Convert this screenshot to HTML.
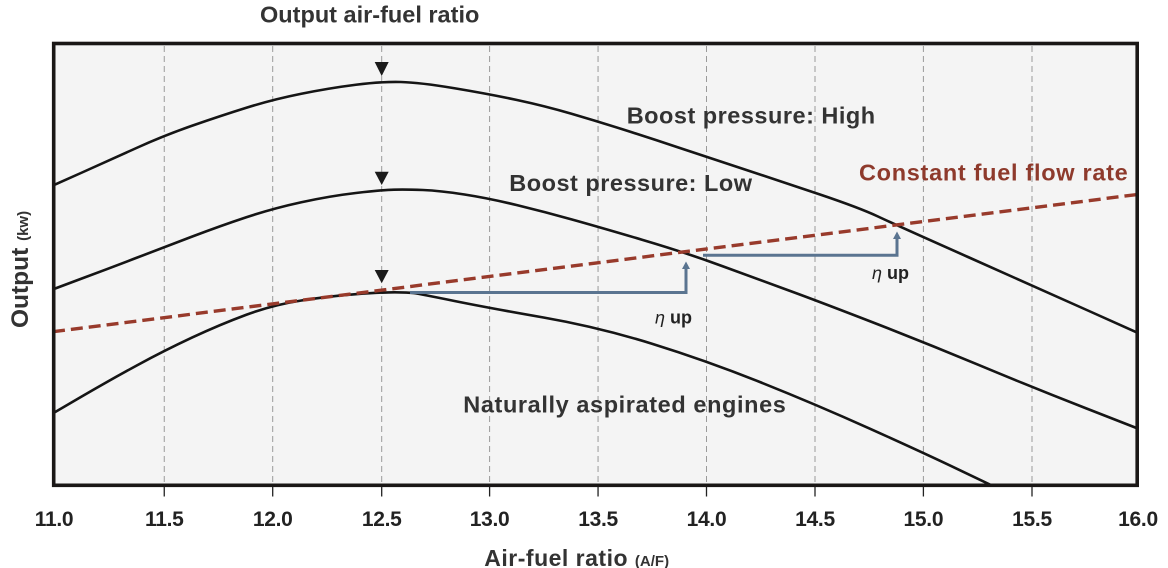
<!DOCTYPE html>
<html><head><meta charset="utf-8"><style>
html,body{margin:0;padding:0;background:#fff;}
svg{display:block;}
text{font-family:"Liberation Sans",Arial,sans-serif;font-weight:bold;}
</style></head><body>
<svg width="1168" height="568" viewBox="0 0 1168 568" xmlns="http://www.w3.org/2000/svg">
<defs><clipPath id="pa"><rect x="55" y="45" width="1081" height="439"/></clipPath></defs>
<rect x="53.7" y="43.5" width="1083.5" height="441.8" fill="#f4f4f4"/>
<g stroke="#9a9a9a" stroke-width="1" stroke-dasharray="6,4">
<line x1="164.25" y1="46" x2="164.25" y2="483"/>
<line x1="272.7" y1="46" x2="272.7" y2="483"/>
<line x1="381.7" y1="46" x2="381.7" y2="483"/>
<line x1="489.6" y1="46" x2="489.6" y2="483"/>
<line x1="598.05" y1="46" x2="598.05" y2="483"/>
<line x1="706.5" y1="46" x2="706.5" y2="483"/>
<line x1="815" y1="46" x2="815" y2="483"/>
<line x1="923.4" y1="46" x2="923.4" y2="483"/>
<line x1="1032" y1="46" x2="1032" y2="483"/>
</g>
<g clip-path="url(#pa)" fill="none" stroke-linejoin="round" stroke-linecap="round">
<path stroke="#151515" stroke-width="2.6" d="M53,185.5 L81.5,172.75 Q110,160 137,147.75 Q164,135.5 192,125.75 Q220,116 246.35,107.75 Q272.7,99.5 301.35,93.75 Q330,88 355.85,84.75 Q381.7,81.5 400.85,82 Q420,82.5 454.5,88.25 Q489,94 517,100 Q545,106 571.5,113.75 Q598,121.5 624,129.75 Q650,138 678,147.35 Q706,156.7 743,168.85 Q780,181 820,194.5 Q860,208 878,216.5 Q896,225 968,257 Q1040,289 1089,311 L1138,333"/>
<path stroke="#151515" stroke-width="2.6" d="M53,289.3 L81.5,278.65 Q110,268 137,257.65 Q164,247.3 192,236.65 Q220,226 246.35,217.25 Q272.7,208.5 301.35,202.25 Q330,196 355.85,193 Q381.7,190 393.85,189.65 Q406,189.3 423,190 Q440,190.7 464.5,194.5 Q489,198.3 517,205.15 Q545,212 571.5,219.35 Q598,226.7 642,239.7 Q686,252.7 723,266.35 Q760,280 787.5,290 Q815,300 869.3,321 Q923.6,342 978.05,364.7 Q1032.5,387.4 1085.25,408 L1138,428.6"/>
<path stroke="#151515" stroke-width="2.6" d="M53,413.3 L81.5,396.65 Q110,380 137,365.35 Q164,350.7 192,337.6 Q220,324.5 246.35,314.75 Q272.7,305 301.35,300.5 Q330,296 355.85,294.15 Q381.7,292.3 394.85,292.3 Q408,292.3 414,293.15 Q420,294 454.5,301 Q489,308 543.5,317.5 Q598,327 652,343.75 Q706,360.5 760.5,382.25 Q815,404 869.3,428.4 Q923.6,452.8 959.3,469.9 L995,487"/>
<g stroke="#5a7490" stroke-width="3" stroke-linecap="butt" stroke-linejoin="miter">
<polyline points="410,292.5 686,292.5 686,266"/>
<polyline points="703,255.3 897,255.3 897,236"/>
</g>
<line x1="53" y1="331.7" x2="1138" y2="194.4" stroke="#983a2b" stroke-width="3.4" stroke-dasharray="12,6" stroke-linecap="butt"/>
</g>
<g fill="#5a7490">
<polygon points="686,261.5 682,269 690,269"/>
<polygon points="897,231.5 893,239 901,239"/>
</g>
<g fill="#1a1a1a">
<polygon points="374.7,62 388.7,62 381.7,76"/>
<polygon points="374.7,171.7 388.7,171.7 381.7,185"/>
<polygon points="374.7,270 388.7,270 381.7,283.3"/>
</g>
<rect x="53.7" y="43.5" width="1083.5" height="441.8" fill="none" stroke="#1a1716" stroke-width="3.6"/>
<g stroke="#222" stroke-width="1.3">
<line x1="164.25" y1="487" x2="164.25" y2="496.5"/>
<line x1="272.7" y1="487" x2="272.7" y2="496.5"/>
<line x1="381.7" y1="487" x2="381.7" y2="496.5"/>
<line x1="489.6" y1="487" x2="489.6" y2="496.5"/>
<line x1="598.05" y1="487" x2="598.05" y2="496.5"/>
<line x1="706.5" y1="487" x2="706.5" y2="496.5"/>
<line x1="815" y1="487" x2="815" y2="496.5"/>
<line x1="923.4" y1="487" x2="923.4" y2="496.5"/>
<line x1="1032" y1="487" x2="1032" y2="496.5"/>
</g>
<g font-size="21" fill="#222" text-anchor="middle" letter-spacing="-0.3">
<text x="54" y="526">11.0</text>
<text x="164.25" y="526">11.5</text>
<text x="272.7" y="526">12.0</text>
<text x="381.7" y="526">12.5</text>
<text x="489.6" y="526">13.0</text>
<text x="598.05" y="526">13.5</text>
<text x="706.5" y="526">14.0</text>
<text x="815" y="526">14.5</text>
<text x="923.4" y="526">15.0</text>
<text x="1032" y="526">15.5</text>
<text x="1138" y="526">16.0</text>
</g>
<text x="260" y="22.7" font-size="23.5" fill="#333">Output air-fuel ratio</text>
<text x="626.7" y="123.3" font-size="23.5" fill="#333" letter-spacing="0.5">Boost pressure: High</text>
<text x="509.3" y="191" font-size="23.5" fill="#333" letter-spacing="0.5">Boost pressure: Low</text>
<text x="859" y="180.7" font-size="23.5" fill="#8e3a2c" letter-spacing="0.7">Constant fuel flow rate</text>
<text x="463.3" y="412.3" font-size="23.5" fill="#333" letter-spacing="0.6">Naturally aspirated engines</text>
<text x="655" y="323.3" font-size="18" fill="#222"><tspan font-style="italic" font-weight="normal">η</tspan> up</text>
<text x="872" y="279" font-size="18" fill="#222"><tspan font-style="italic" font-weight="normal">η</tspan> up</text>
<text x="484.3" y="566" font-size="23" fill="#333" letter-spacing="0.5">Air-fuel ratio <tspan font-size="15" letter-spacing="0">(A/F)</tspan></text>
<text transform="translate(28,328) rotate(-90)" font-size="24.5" fill="#333">Output <tspan font-size="15">(kw)</tspan></text>
</svg>
</body></html>
